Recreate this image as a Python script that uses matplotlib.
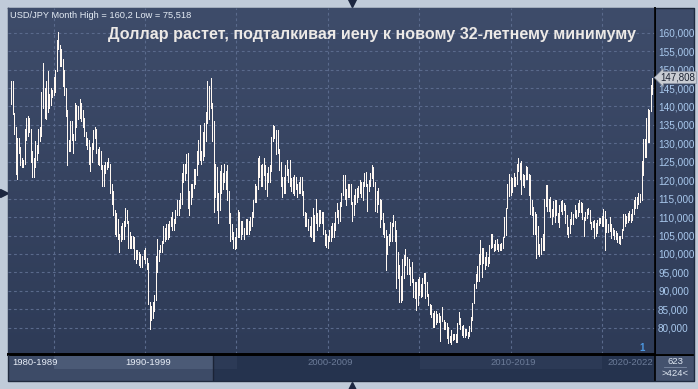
import numpy as np
import pandas as pd
import matplotlib
matplotlib.use("Agg")
import matplotlib.pyplot as plt
from matplotlib.colors import LinearSegmentedColormap
from matplotlib.lines import Line2D
from matplotlib.patches import Rectangle

plt.rcParams['font.family'] = ['Liberation Sans', 'DejaVu Sans']

# ---------------- data (USD/JPY monthly high / low, Sep 1987 - Oct 2022) ----------------
months = pd.period_range("1987-09", "2022-10", freq="M")

high = [
    146.8, 147.0, 138.2, 134.5,                                                        # 1987
    131.5, 131.5, 129.0, 126.0, 125.5, 134.0, 137.0, 137.5, 137.0, 134.0, 128.0, 126.0,  # 1988
    130.5, 129.5, 134.0, 134.5, 144.0, 151.9, 145.0, 147.0, 149.5, 143.5, 145.0, 144.5,  # 1989
    148.0, 150.0, 157.9, 160.2, 156.7, 155.5, 153.0, 150.0, 145.0, 139.0, 131.0, 136.0,  # 1990
    136.0, 132.5, 141.0, 140.5, 140.0, 142.0, 141.0, 139.0, 137.0, 133.0, 131.5, 131.0,  # 1991
    129.0, 130.0, 133.5, 134.5, 134.0, 128.5, 129.0, 128.0, 124.0, 124.0, 125.0, 125.0,  # 1992
    126.0, 124.5, 119.0, 117.0, 112.0, 111.0, 109.5, 105.5, 107.5, 108.5, 109.0, 112.5,  # 1993
    112.0, 109.0, 106.0, 105.0, 105.0, 104.5, 101.0, 101.0, 100.5, 100.0, 99.5, 101.0,   # 1994
    101.5, 99.0, 97.5, 87.0, 86.0, 87.0, 89.0, 99.5, 104.0, 101.0, 102.5, 103.5,         # 1995
    107.5, 107.0, 108.0, 108.0, 109.0, 110.0, 111.5, 109.5, 112.0, 114.5, 114.5, 116.5,  # 1996
    122.0, 124.5, 124.5, 127.0, 127.5, 117.0, 119.0, 119.0, 123.0, 123.0, 128.0, 131.0,  # 1997
    135.0, 128.0, 133.0, 135.5, 138.5, 146.8, 145.5, 147.6, 141.0, 136.0, 124.5, 123.5,  # 1998
    116.5, 122.5, 124.0, 122.0, 124.5, 122.5, 124.0, 117.0, 111.0, 108.0, 106.0, 104.5,  # 1999
    107.0, 112.0, 111.5, 109.0, 109.0, 107.0, 109.5, 109.5, 109.0, 110.0, 111.5, 114.5,  # 2000
    119.0, 118.5, 126.0, 126.5, 124.0, 124.5, 126.0, 124.0, 122.0, 123.5, 124.0, 131.8,  # 2001
    135.0, 134.7, 133.5, 133.5, 128.5, 125.0, 121.0, 121.0, 124.0, 125.6, 123.0, 125.6,  # 2002
    120.5, 121.0, 121.5, 121.0, 119.0, 119.5, 121.0, 121.0, 117.0, 111.5, 111.0, 109.5,  # 2003
    107.5, 110.0, 112.5, 110.5, 114.9, 111.0, 112.0, 112.0, 111.5, 111.5, 106.5, 105.5,  # 2004
    105.0, 106.5, 107.5, 108.5, 108.5, 111.5, 113.7, 112.0, 114.0, 116.5, 121.4, 121.4,  # 2005
    117.5, 119.0, 119.0, 119.0, 114.0, 116.0, 117.5, 118.0, 118.5, 120.0, 119.5, 119.5,  # 2006
    122.0, 122.2, 119.0, 120.0, 122.0, 124.2, 123.5, 119.5, 117.0, 118.0, 115.0, 114.7,  # 2007
    111.0, 108.5, 106.5, 105.0, 105.5, 108.6, 108.5, 110.7, 109.0, 106.5, 100.5, 97.0,   # 2008
    94.0, 98.5, 99.8, 101.4, 99.3, 98.7, 96.5, 97.8, 93.3, 92.3, 92.5, 93.1,             # 2009
    93.8, 91.9, 93.5, 94.9, 94.9, 92.3, 89.2, 86.5, 86.2, 83.9, 84.5, 84.5,              # 2010
    83.7, 84.0, 83.3, 85.5, 82.2, 81.5, 81.2, 80.2, 77.8, 79.5, 78.3, 78.3,              # 2011
    78.3, 81.2, 84.2, 82.5, 80.4, 80.6, 79.7, 79.6, 78.9, 80.4, 82.8, 86.6,              # 2012
    91.8, 94.5, 96.7, 99.9, 103.7, 101.5, 101.5, 99.1, 100.6, 99.1, 102.4, 105.4,        # 2013
    105.4, 102.7, 103.8, 104.1, 102.8, 102.8, 103.1, 104.5, 109.9, 112.5, 118.9, 121.8,  # 2014
    120.8, 120.5, 122.0, 120.8, 124.4, 125.9, 124.6, 125.3, 121.7, 121.5, 123.8, 123.7,  # 2015
    121.7, 121.5, 114.6, 112.7, 111.4, 110.9, 107.5, 102.8, 104.3, 105.5, 114.8, 118.7,  # 2016
    118.6, 114.9, 115.5, 112.2, 114.4, 114.5, 114.5, 111.1, 113.2, 114.4, 114.7, 113.7,  # 2017
    113.4, 110.5, 107.3, 109.5, 111.4, 110.9, 113.2, 111.8, 113.7, 114.6, 114.2, 113.8,  # 2018
    110.0, 111.5, 112.1, 112.4, 112.0, 108.8, 109.0, 109.3, 108.5, 109.3, 109.7, 109.7,  # 2019
    110.3, 112.2, 111.7, 109.4, 108.1, 109.9, 108.2, 107.0, 106.6, 106.1, 105.7, 104.8,  # 2020
    104.9, 106.7, 110.9, 110.9, 110.2, 111.1, 111.7, 110.8, 112.1, 114.7, 115.5, 115.4,  # 2021
    116.4, 116.3, 125.1, 131.3, 131.3, 137.0, 139.4, 139.1, 145.9, 147.808,              # 2022
]

low = [
    140.8, 138.0, 132.5, 121.8,                                                          # 1987
    120.2, 127.5, 124.0, 123.5, 123.5, 124.5, 131.0, 132.0, 133.0, 125.0, 121.0, 121.0,  # 1988
    123.5, 125.5, 127.5, 130.5, 132.0, 139.5, 137.0, 136.5, 138.5, 139.5, 140.5, 142.5,  # 1989
    143.0, 144.0, 149.5, 155.5, 151.0, 151.0, 145.5, 143.0, 137.5, 124.2, 128.0, 128.0,  # 1990
    131.0, 127.5, 131.0, 134.5, 136.5, 137.0, 136.0, 134.5, 132.0, 129.5, 128.5, 124.5,  # 1991
    122.5, 125.0, 128.5, 131.5, 127.5, 124.5, 124.0, 123.0, 118.5, 118.5, 122.0, 123.0,  # 1992
    123.5, 116.5, 113.5, 110.5, 105.5, 105.0, 104.0, 100.5, 103.5, 104.0, 104.0, 107.5,  # 1993
    108.5, 101.5, 101.5, 101.5, 101.5, 98.5, 97.5, 98.5, 96.9, 96.5, 96.5, 98.5,         # 1994
    97.5, 96.0, 86.5, 79.75, 82.0, 82.5, 84.5, 87.5, 95.0, 98.0, 100.5, 100.5,           # 1995
    103.0, 103.5, 104.0, 104.0, 104.5, 107.5, 106.5, 106.5, 108.5, 110.5, 110.5, 112.5,  # 1996
    113.5, 119.5, 120.0, 122.0, 112.5, 110.5, 113.5, 115.5, 118.0, 119.0, 121.5, 124.5,  # 1997
    125.5, 124.5, 125.5, 126.5, 130.5, 135.5, 136.5, 139.5, 130.5, 111.5, 115.5, 112.0,  # 1998
    108.5, 112.0, 116.5, 117.5, 119.5, 117.5, 114.5, 108.5, 103.5, 104.0, 101.5, 101.3,  # 1999
    101.5, 104.5, 104.5, 104.0, 105.5, 104.0, 105.5, 105.5, 105.5, 106.5, 107.5, 110.0,  # 2000
    114.0, 114.0, 117.5, 121.0, 118.5, 118.5, 121.5, 117.5, 115.8, 119.5, 119.5, 122.5,  # 2001
    130.5, 131.5, 127.0, 127.5, 122.8, 118.5, 115.5, 116.5, 116.5, 121.5, 119.5, 118.5,  # 2002
    117.0, 116.5, 116.0, 117.5, 115.5, 116.5, 116.5, 116.0, 110.5, 107.5, 107.5, 106.5,  # 2003
    105.0, 104.5, 103.5, 103.5, 108.5, 106.5, 107.5, 108.5, 108.5, 105.5, 102.5, 101.8,  # 2004
    101.7, 103.5, 103.5, 104.5, 104.5, 106.5, 110.0, 108.5, 109.0, 113.0, 116.0, 115.0,  # 2005
    113.4, 115.5, 115.5, 113.5, 108.9, 110.5, 113.5, 114.0, 115.5, 116.5, 115.5, 114.5,  # 2006
    118.5, 118.5, 111.6, 117.0, 118.5, 120.5, 118.3, 111.6, 111.5, 113.5, 107.2, 109.5,  # 2007
    105.5, 104.5, 95.7, 100.0, 102.5, 103.5, 103.5, 107.5, 103.5, 90.9, 93.5, 87.1,      # 2008
    87.1, 87.5, 93.5, 97.0, 94.5, 94.5, 91.7, 92.5, 88.2, 88.0, 84.8, 86.2,              # 2009
    89.0, 88.2, 88.6, 92.0, 88.1, 88.6, 86.1, 83.6, 82.9, 80.2, 80.3, 81.0,              # 2010
    81.5, 81.6, 76.3, 81.7, 79.6, 79.6, 77.2, 75.9, 76.0, 75.518, 76.6, 76.9,            # 2011
    76.0, 76.1, 80.9, 79.7, 78.0, 77.6, 77.6, 78.0, 77.1, 77.8, 79.2, 82.2,              # 2012
    86.6, 90.8, 92.6, 92.6, 97.3, 93.8, 97.6, 95.8, 96.9, 96.6, 97.6, 101.6,             # 2013
    101.8, 100.8, 101.2, 101.4, 100.8, 101.1, 101.1, 101.5, 104.7, 105.2, 112.4, 115.6,  # 2014
    115.9, 116.9, 118.3, 118.5, 118.9, 122.4, 120.4, 116.2, 118.6, 118.1, 120.2, 120.2,  # 2015
    115.9, 110.9, 110.7, 105.5, 105.5, 99.0, 99.9, 99.5, 100.1, 101.2, 101.2, 112.9,     # 2016
    111.6, 111.6, 110.1, 108.1, 110.2, 108.8, 110.6, 108.6, 107.3, 111.7, 110.8, 111.9,  # 2017
    108.3, 105.5, 104.6, 105.7, 108.1, 108.1, 109.9, 109.8, 110.4, 111.4, 111.4, 109.6,  # 2018
    104.8, 109.3, 109.7, 110.8, 108.3, 106.8, 107.2, 104.4, 104.9, 105.7, 107.9, 108.4,  # 2019
    107.7, 107.5, 101.2, 105.9, 105.9, 106.1, 104.2, 105.1, 104.0, 104.0, 103.2, 102.9,  # 2020
    102.6, 104.4, 106.4, 107.5, 108.3, 108.6, 109.1, 108.7, 109.1, 110.8, 112.5, 112.5,  # 2021
    113.5, 114.2, 114.7, 121.3, 126.4, 126.4, 130.4, 130.4, 138.7, 143.5,                # 2022
]

price_ticks = list(range(80, 161, 5))
decade_labels = ["1980-1989", "1990-1999", "2000-2009", "2010-2019", "2020-2022"]
title = "Доллар растет, подталкивая иену к новому 32-летнему минимуму"
info = "USD/JPY Month High = 160,2 Low = 75,518"

# ---------------- layout helpers ----------------
W, H = 698, 389
fig = plt.figure(figsize=(W / 100, H / 100), dpi=100, facecolor="#c0cbd9")


def box(x0, y0, x1, y1):
    return [x0 / W, 1 - y1 / H, (x1 - x0) / W, (y1 - y0) / H]


def fline(xs, ys, **kw):
    fig.add_artist(Line2D([x / W for x in xs], [1 - y / H for y in ys],
                          transform=fig.transFigure, **kw))


bg_cmap = LinearSegmentedColormap.from_list("bg", ["#3e4c6a", "#2e3b57"])
grad = np.linspace(0, 1, 256).reshape(-1, 1)


def gradient(a):
    a.imshow(grad, cmap=bg_cmap, extent=[0, 1, 0, 1], transform=a.transAxes,
             aspect="auto", zorder=0, interpolation="bicubic")


# right price panel
rp = fig.add_axes(box(655, 8, 694, 354))
rp.set_zorder(1)
gradient(rp)
rp.set_xlim(0, 1); rp.set_ylim(0, 1)
rp.axis("off")

# main chart
ax = fig.add_axes(box(8, 8, 655, 354))
ax.set_zorder(2)
ax.patch.set_alpha(0)
gradient(ax)

x = np.arange(len(high))
ax.vlines(x, low, high, color="#fff8f2", lw=0.72, zorder=3, antialiased=False)

ax.set_xlim(-1.97, 422.85)
ax.set_ylim(72.87, 166.7)

grid_idx = [i for i, p in enumerate(months) if p.month == 1 and p.year % 5 == 0]
ax.set_xticks(grid_idx)
ax.set_yticks(price_ticks)
ax.set_yticklabels([f"{v:,.3f}".replace(".", ",") for v in price_ticks])
ax.grid(True, ls=(0, (2.5, 2.5)), color="#5a6a8c", lw=0.8, zorder=1)
ax.yaxis.tick_right()
ax.tick_params(axis="x", length=0, labelbottom=False)
ax.tick_params(axis="y", length=0, pad=2.2, labelsize=7.2, labelcolor="#a9c9ee")
for s in ["top", "left"]:
    ax.spines[s].set_visible(False)
ax.spines["right"].set_color("black"); ax.spines["right"].set_linewidth(1.2)
ax.spines["bottom"].set_color("black"); ax.spines["bottom"].set_linewidth(1.4)

# last price label
last = high[-1]
ax.annotate(f"{last:,.3f}".replace(".", ","), xy=(1, last),
            xycoords=("axes fraction", "data"), xytext=(4, 0),
            textcoords="offset points", ha="left", va="center",
            fontsize=7.0, color="#1b2232", annotation_clip=False,
            bbox=dict(boxstyle="larrow,pad=0.1", fc="#c8ccd3", ec="#8e96a4", lw=0.5),
            zorder=10)

# texts
fig.text(10 / W, 1 - 15.5 / H, info, fontsize=6.7, color="#e4ebf4", va="center", ha="left")
fig.text(108 / W, 1 - 35 / H, title, fontsize=11.6, fontweight="bold",
         color="#ece9e6", va="center", ha="left")

# navigator
nav = fig.add_axes(box(8, 355, 655, 381))
nav.set_xlim(8, 655); nav.set_ylim(381, 355)
nav.axis("off")
nav.add_patch(Rectangle((8, 355), 647, 26, fc="#25334e", ec="none"))
nav.add_patch(Rectangle((8, 355), 205, 26, fc="#3d4b67", ec="none"))
nav.add_patch(Rectangle((54, 356), 159, 13, fc="#4b5a76", ec="none"))
nav.add_patch(Rectangle((213, 356), 24, 13, fc="#2c3a56", ec="none"))
nav.add_patch(Rectangle((420, 356), 182, 13, fc="#2c3a56", ec="none"))
nav.plot([213, 213], [355, 381], color="#1b2336", lw=1)
label_x = [12, 125, 307, 490, 607]
label_c = ["#e8eef8", "#e8eef8", "#6b7b98", "#6b7b98", "#6b7b98"]
for lab, lx, lc in zip(decade_labels, label_x, label_c):
    nav.text(lx, 362.5, lab, fontsize=6.8, color=lc, ha="left", va="center")

# right lower box
rb = fig.add_axes(box(655, 355, 694, 381))
rb.set_xlim(655, 694); rb.set_ylim(381, 355)
rb.axis("off")
rb.add_patch(Rectangle((655, 355), 39, 26, fc="#44526e", ec="none"))
rb.text(675, 361.5, "623", fontsize=6.8, color="#dfe7f2", ha="center", va="center")
rb.plot([664, 686], [367.5, 367.5], color="#7d8ba4", lw=0.6)
rb.text(675, 374, ">424<", fontsize=6.8, color="#dfe7f2", ha="center", va="center")

# separators / frame
fline([8, 694], [354.5, 354.5], color="black", lw=1.4)
fline([655, 655], [8, 381], color="black", lw=1.2)
fline([8, 8, 694, 694, 8], [8, 381, 381, 8, 8], color="#1f2a3f", lw=1.0)

# small markers
fig.text(642 / W, 1 - 348 / H, "1", fontsize=7, fontweight="bold", color="#4d97e0",
         ha="center", va="center")
fline([651], [350], marker="^", ms=4, color="#4f5e78", lw=0)
fline([352], [3], marker="v", ms=6, color="#1c2640", lw=0)
fline([352], [386], marker="^", ms=6, color="#1c2640", lw=0)
fline([4], [193], marker=">", ms=6, color="#1c2640", lw=0)

fig.savefig("out.png", dpi=100, facecolor=fig.get_facecolor())
